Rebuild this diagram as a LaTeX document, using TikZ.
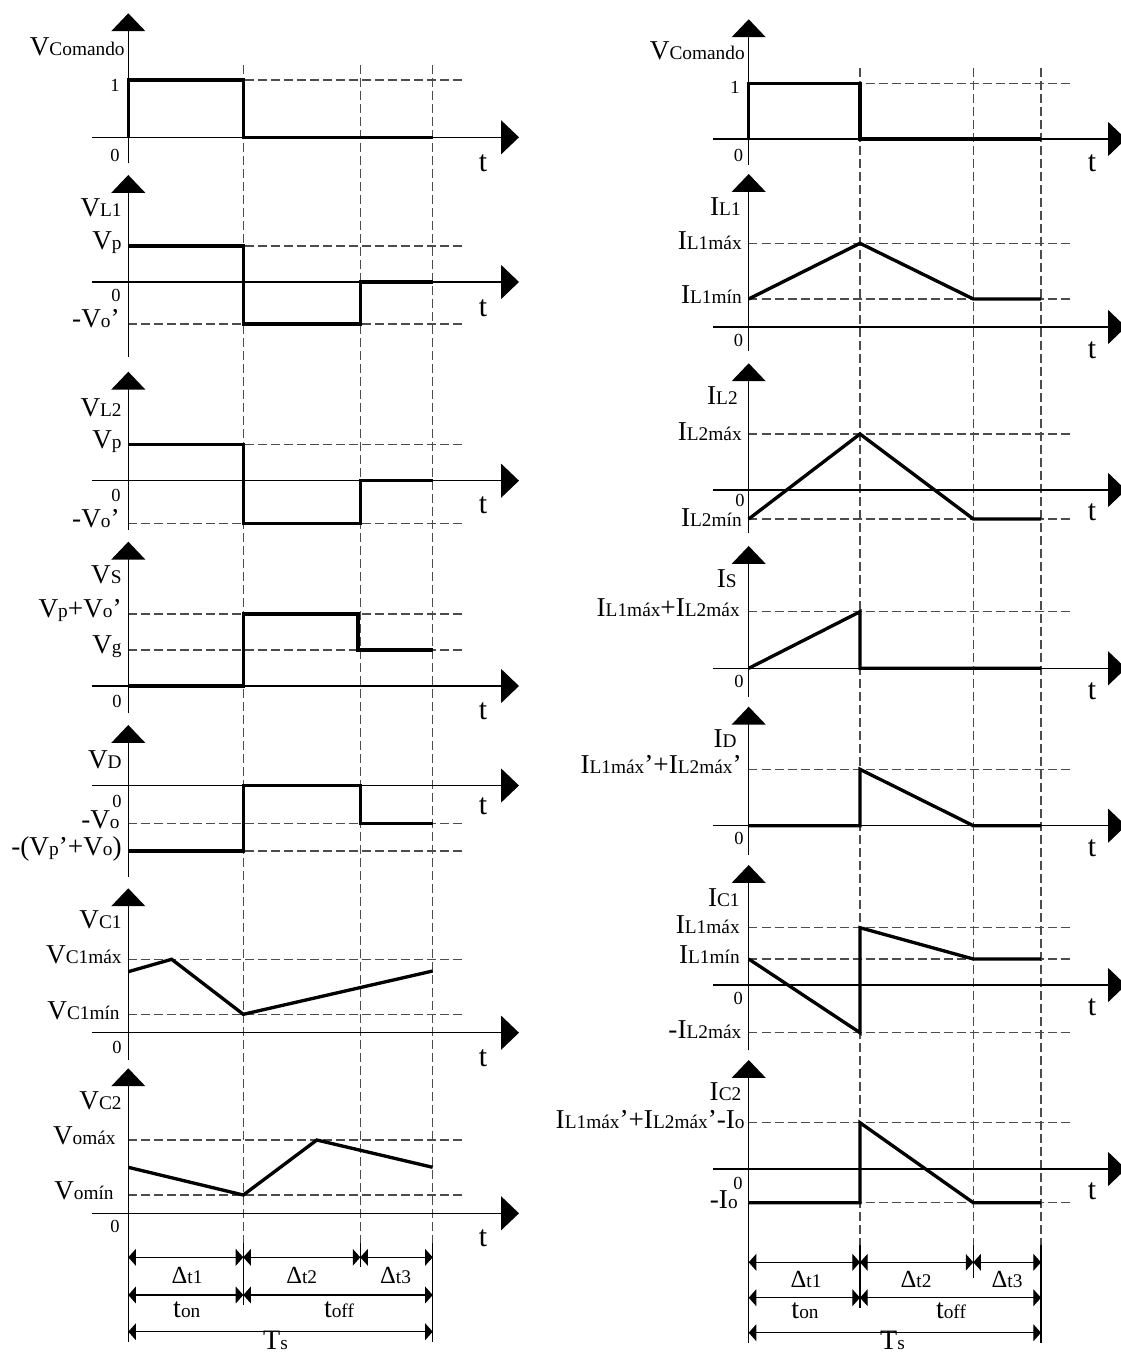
\documentclass[tikz,border=0pt]{standalone}
\usepackage{fontspec}
\setmainfont{Liberation Serif}
\usetikzlibrary{arrows.meta}
\newcommand\M{\fontsize{15.5}{18}\selectfont}
\newcommand\Sb{\fontsize{11}{13}\selectfont}
\newcommand\Zf{\fontsize{10.5}{12}\selectfont}
\newcommand\Tt{\fontsize{17}{19}\selectfont}
\newcommand\Df{\fontsize{14}{16}\selectfont}
\newcommand\lb[2]{{\M #1}{\Sb #2}}
\begin{document}
\begin{tikzpicture}[x=0.02cm,y=-0.02cm,
  axisline/.style={line width=0.75pt,-{Triangle[length=10.2pt,width=19.3pt]}},
  wave/.style={line width=1.9pt,line join=miter,line cap=butt},
  guide/.style={line width=0.6pt,draw=black!70,dash pattern=on 5pt off 2.4pt},
  extline/.style={line width=0.6pt},
  dimline/.style={line width=0.6pt,{Triangle[length=4.3pt,width=9.5pt]}-{Triangle[length=4.3pt,width=9.5pt]}},
  lbl/.style={anchor=base east,inner sep=0pt},
  zero/.style={inner sep=0pt,font=\Zf},
  tlab/.style={inner sep=0pt,font=\Tt},
  dlab/.style={anchor=base,inner sep=0pt}]
\useasboundingbox (0,0) rectangle (1121,1354);

% ---------- guides ----------
\foreach \x in {243.3,360.3,432.7} \draw[guide] (\x,65) -- (\x,1243);
\foreach \x in {860,973.3,1041} \draw[guide] (\x,68) -- (\x,1245);
\foreach \y in {80,246,324,444.3,523.3,614,650,823.3,851,959.3,1014.3,1140,1195}
  \draw[guide] (128.3,\y) -- (462.7,\y);
\foreach \y in {83.3,243.3,299,434,519,611.7,769.3,927.7,959,1032.7,1122.7,1202.7}
  \draw[guide] (748.7,\y) -- (1070,\y);

% ---------- axes ----------
\foreach \tip/\bot/\ax in {13.3/163.3/137.3, 175/356.7/282, 371.7/530/480.7, 541.7/713.3/686, 725/876.7/785.5, 888.3/1060/1032.7, 1068.3/1240/1213.3} {
  \draw[axisline] (128.3,\bot) -- (128.3,\tip);
  \draw[axisline] (91.7,\ax) -- (519,\ax);
}
\foreach \tip/\bot/\ax in {19.3/165/139, 174/350.7/327, 363.3/533.3/490, 546/696.7/668.3, 706.7/855/825.7, 865/1050/985, 1060/1243.3/1169} {
  \draw[axisline] (748.7,\bot) -- (748.7,\tip);
  \draw[axisline] (713.3,\ax) -- (1126,\ax);
}

% ---------- waveforms left ----------
\draw[wave] (128.3,137.3) -- (128.3,80) -- (243.3,80) -- (243.3,137.3) -- (432.7,137.3);
\draw[wave] (128.3,246) -- (243.3,246) -- (243.3,324) -- (360.3,324) -- (360.3,282) -- (432.7,282);
\draw[wave] (128.3,444.3) -- (243.3,444.3) -- (243.3,523.3) -- (360.3,523.3) -- (360.3,480.7) -- (432.7,480.7);
\draw[wave] (128.3,686) -- (243.3,686) -- (243.3,614) -- (358,614) -- (358,650) -- (432.7,650);
\draw[wave] (128.3,851) -- (243.3,851) -- (243.3,785.5) -- (360.3,785.5) -- (360.3,823.3) -- (432.7,823.3);
\draw[wave] (128.3,971.7) -- (171.7,959.3) -- (243.3,1014.3) -- (432.7,971);
\draw[wave] (128.3,1167.3) -- (243.3,1195) -- (316.8,1140) -- (432.7,1167.3);

% ---------- waveforms right ----------
\draw[wave] (748.7,139) -- (748.7,83.3) -- (860,83.3) -- (860,139) -- (1041,139);
\draw[wave] (748.7,299) -- (860,243.3) -- (973.3,299) -- (1041,299);
\draw[wave] (748.7,519) -- (860,434) -- (973.3,519) -- (1041,519);
\draw[wave] (748.7,668.3) -- (860,611.7) -- (860,668.3) -- (1041,668.3);
\draw[wave] (748.7,825.7) -- (860,825.7) -- (860,769.3) -- (973.3,825.7) -- (1041,825.7);
\draw[wave] (748.7,959) -- (860,1032.7) -- (860,927.7) -- (973.3,959) -- (1041,959);
\draw[wave] (748.7,1202.7) -- (860,1202.7) -- (860,1122.7) -- (973.3,1202.7) -- (1041,1202.7);

% ---------- dimension lines left ----------
\draw[extline] (128.3,1240) -- (128.3,1341.7);
\draw[extline] (243.3,1243) -- (243.3,1305);
\draw[extline] (360.3,1243) -- (360.3,1266.7);
\draw[extline] (432.7,1243) -- (432.7,1341.7);
\coordinate (LA1) at (128.3,1257.3); \coordinate (LB1) at (243.3,1257.3);
\coordinate (LC1) at (360.3,1257.3); \coordinate (LD1) at (432.7,1257.3);
\coordinate (LA2) at (128.3,1295); \coordinate (LB2) at (243.3,1295); \coordinate (LD2) at (432.7,1295);
\coordinate (LA3) at (128.3,1331.7); \coordinate (LD3) at (432.7,1331.7);
\draw[dimline] (LA1) -- (LB1); \draw[dimline] (LB1) -- (LC1); \draw[dimline] (LC1) -- (LD1);
\draw[dimline] (LA2) -- (LB2); \draw[dimline] (LB2) -- (LD2);
\draw[dimline] (LA3) -- (LD3);

% ---------- dimension lines right ----------
\draw[extline] (748.7,1243.3) -- (748.7,1342.7);
\draw[extline] (860,1245) -- (860,1308);
\draw[extline] (973.3,1245) -- (973.3,1278.3);
\draw[extline] (1041,1245) -- (1041,1342.7);
\coordinate (RA1) at (748.7,1262.3); \coordinate (RB1) at (860,1262.3);
\coordinate (RC1) at (973.3,1262.3); \coordinate (RD1) at (1041,1262.3);
\coordinate (RA2) at (748.7,1297.7); \coordinate (RB2) at (860,1297.7); \coordinate (RD2) at (1041,1297.7);
\coordinate (RA3) at (748.7,1332.7); \coordinate (RD3) at (1041,1332.7);
\draw[dimline] (RA1) -- (RB1); \draw[dimline] (RB1) -- (RC1); \draw[dimline] (RC1) -- (RD1);
\draw[dimline] (RA2) -- (RB2); \draw[dimline] (RB2) -- (RD2);
\draw[dimline] (RA3) -- (RD3);

% ---------- labels left ----------
\node[lbl] (lT1) at (125,56) {\lb{V}{Comando}};
\node[zero] (l1one) at (115,85.5) {1};
\node[zero] (l1zero) at (115,155) {0};
\node[tlab] (l1t) at (483,163.3) {t};

\node[lbl] (lT2) at (122,216.7) {\lb{V}{L1}};
\node[lbl] (l2a) at (122,250) {\lb{V}{p}};
\node[zero] (l2zero) at (116,295) {0};
\node[lbl] (l2b) at (120,328) {\lb{-V}{o}{\M ’}};
\node[tlab] (l2t) at (483,308) {t};

\node[lbl] (lT3) at (122,416) {\lb{V}{L2}};
\node[lbl] (l3a) at (122,448.3) {\lb{V}{p}};
\node[zero] (l3zero) at (116,495) {0};
\node[lbl] (l3b) at (120,527.3) {\lb{-V}{o}{\M ’}};
\node[tlab] (l3t) at (483,505) {t};

\node[lbl] (lT4) at (122,583) {\lb{V}{S}};
\node[lbl] (l4a) at (122,617) {\lb{V}{p}\lb{+V}{o}{\M ’}};
\node[lbl] (l4b) at (122,653) {\lb{V}{g}};
\node[zero] (l4zero) at (117,701.7) {0};
\node[tlab] (l4t) at (483,711.7) {t};

\node[lbl] (lT5) at (122,768) {\lb{V}{D}};
\node[zero] (l5zero) at (117,801.7) {0};
\node[lbl] (l5a) at (120,828) {\lb{-V}{o}};
\node[lbl] (l5b) at (122,855) {\lb{-(V}{p}\lb{’+V}{o}{\M )}};
\node[tlab] (l5t) at (483,806.7) {t};

\node[lbl] (lT6) at (122,928) {\lb{V}{C1}};
\node[lbl] (l6a) at (122,963.3) {\lb{V}{C1máx}};
\node[lbl] (l6b) at (120,1019) {\lb{V}{C1mín}};
\node[zero] (l6zero) at (117,1047.7) {0};
\node[tlab] (l6t) at (483,1058) {t};

\node[lbl] (lT7) at (122,1109) {\lb{V}{C2}};
\node[lbl] (l7a) at (116,1144) {\lb{V}{omáx}};
\node[lbl] (l7b) at (114,1199) {\lb{V}{omín}};
\node[zero] (l7zero) at (115,1226.7) {0};
\node[tlab] (l7t) at (483,1238.3) {t};

\node[dlab] (ld1) at (187,1283) {{\Df Δ}{\Sb t1}};
\node[dlab] (ld2) at (301.7,1283) {{\Df Δ}{\Sb t2}};
\node[dlab] (ld3) at (395.5,1283) {{\Df Δ}{\Sb t3}};
\node[dlab] (lon) at (186.8,1317) {{\fontsize{16}{18}\selectfont t}{\Sb on}};
\node[dlab] (loff) at (339,1317) {{\fontsize{16}{18}\selectfont t}{\Sb off}};
\node[dlab] (lTs) at (275.5,1349) {{\fontsize{16}{18}\selectfont T}{\Sb s}};

% ---------- labels right ----------
\node[lbl] (rT1) at (745,60) {\lb{V}{Comando}};
\node[zero] (r1one) at (735,87) {1};
\node[zero] (r1zero) at (738.5,155) {0};
\node[tlab] (r1t) at (1092,163.3) {t};

\node[lbl] (rT2) at (741,216) {\lb{I}{L1}};
\node[lbl] (r2a) at (742,249.3) {\lb{I}{L1máx}};
\node[lbl] (r2b) at (742,304) {\lb{I}{L1mín}};
\node[zero] (r2zero) at (738.5,340) {0};
\node[tlab] (r2t) at (1092,350.7) {t};

\node[lbl] (rT3) at (738,404) {\lb{I}{L2}};
\node[lbl] (r3a) at (742,440) {\lb{I}{L2máx}};
\node[lbl] (r3b) at (742,526) {\lb{I}{L2mín}};
\node[zero] (r3zero) at (740,500.5) {0};
\node[tlab] (r3t) at (1092,512.5) {t};

\node[lbl] (rT4) at (737,587) {\lb{I}{S}};
\node[lbl] (r4a) at (740,616.7) {\lb{I}{L1máx}\lb{+I}{L2máx}};
\node[zero] (r4zero) at (739,681.7) {0};
\node[tlab] (r4t) at (1092,691.7) {t};

\node[lbl] (rT5) at (737,747) {\lb{I}{D}};
\node[lbl] (r5a) at (742,773.3) {\lb{I}{L1máx}\lb{’+I}{L2máx}{\M ’}};
\node[zero] (r5zero) at (739,838.3) {0};
\node[tlab] (r5t) at (1092,848.3) {t};

\node[lbl] (rT6) at (740,906) {\lb{I}{C1}};
\node[lbl] (r6a) at (740,933.3) {\lb{I}{L1máx}};
\node[lbl] (r6b) at (740,963) {\lb{I}{L1mín}};
\node[zero] (r6zero) at (738.3,998.3) {0};
\node[lbl] (r6c) at (741.7,1038) {\lb{-I}{L2máx}};
\node[tlab] (r6t) at (1092,1007) {t};

\node[lbl] (rT7) at (741.7,1100.7) {\lb{I}{C2}};
\node[lbl] (r7a) at (745,1128.3) {\lb{I}{L1máx}\lb{’+I}{L2máx}\lb{’-I}{o}};
\node[zero] (r7zero) at (738,1183.3) {0};
\node[lbl] (r7b) at (738,1208.3) {\lb{-I}{o}};
\node[tlab] (r7t) at (1092,1191.7) {t};

\node[dlab] (rd1) at (806,1287) {{\Df Δ}{\Sb t1}};
\node[dlab] (rd2) at (916,1287) {{\Df Δ}{\Sb t2}};
\node[dlab] (rd3) at (1007,1287) {{\Df Δ}{\Sb t3}};
\node[dlab] (ron) at (805,1318) {{\fontsize{16}{18}\selectfont t}{\Sb on}};
\node[dlab] (roff) at (951,1318) {{\fontsize{16}{18}\selectfont t}{\Sb off}};
\node[dlab] (rTs) at (892.5,1349) {{\fontsize{16}{18}\selectfont T}{\Sb s}};
\end{tikzpicture}
\end{document}
